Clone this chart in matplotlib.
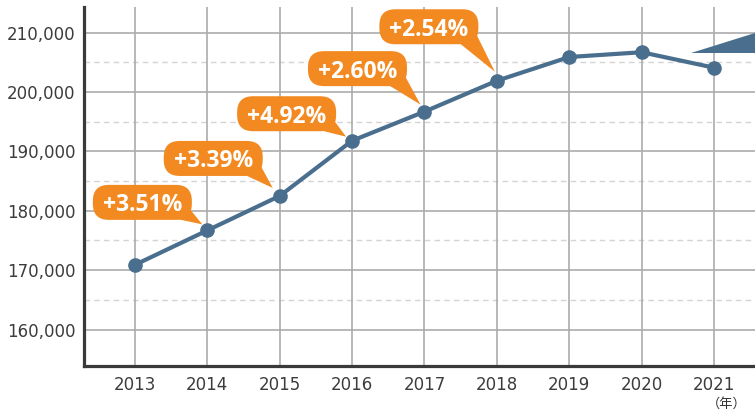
import matplotlib
matplotlib.use("Agg")
import matplotlib.pyplot as plt
from matplotlib.patches import FancyBboxPatch, Polygon
from matplotlib.transforms import IdentityTransform
from matplotlib.ticker import FuncFormatter

years = [2013, 2014, 2015, 2016, 2017, 2018, 2019, 2020, 2021]
values = [170900, 176700, 182500, 191800, 196700, 201900, 205900, 206700, 204100]
growth_years = [2014, 2015, 2016, 2017, 2018]
growth_labels = ["+3.51%", "+3.39%", "+4.92%", "+2.60%", "+2.54%"]
y_ticks = [160000, 170000, 180000, 190000, 200000, 210000]
y_minor = [165000, 175000, 185000, 195000, 205000]

W, H = 755, 412
LINE = "#4a6f8e"
ORANGE = "#f28a21"

fig = plt.figure(figsize=(W / 100, H / 100), dpi=100)
ax = fig.add_axes([83.5 / W, 46 / H, 1 - 83.5 / W, (366 - 7) / H])
ax.set_xlim(2012.289, 2021.566)
ax.set_ylim(153860, 214320)

for v in y_ticks:
    ax.axhline(v, color="#ababab", lw=1.2, zorder=1)
for v in y_minor:
    ax.axhline(v, color="#d4d4d4", lw=1.0, ls=(0, (4, 3)), zorder=1)
for yr in years:
    ax.axvline(yr, color="#ababab", lw=1.2, zorder=1)

ax.plot(years, values, color=LINE, lw=3, marker="o", ms=9.5, zorder=5)

ax.set_xticks(years)
ax.set_xticklabels([str(y) for y in years])
ax.set_yticks(y_ticks)
ax.yaxis.set_major_formatter(FuncFormatter(lambda v, p: f"{int(v):,}"))
ax.tick_params(length=0, labelsize=12, colors="#3c3c3c")
ax.tick_params(axis="y", pad=6)
ax.tick_params(axis="x", pad=7)
for s in ["top", "right"]:
    ax.spines[s].set_visible(False)
for s in ["left", "bottom"]:
    ax.spines[s].set_color("#3a3a3a")
    ax.spines[s].set_linewidth(2.3)
    ax.spines[s].set_zorder(6)

# callout bubbles (pixel offsets from the data point, y downward)
box_off = [(-65, -28), (-66.5, -37.5), (-65.5, -27), (-67, -43), (-68, -54)]
tip_off = [(-5, -6), (-7, -8), (-6, -4), (-4, -7), (-2, -9)]
bw, bh = 99, 35
fig.canvas.draw()
val_map = dict(zip(years, values))
for yr, lab, (dx, dy), (tx, ty) in zip(growth_years, growth_labels, box_off, tip_off):
    px, py = ax.transData.transform((yr, val_map[yr]))
    cx, cy = px + dx, py - dy
    box = FancyBboxPatch((cx - bw / 2, cy - bh / 2), bw, bh,
                         boxstyle="round,pad=0,rounding_size=16",
                         transform=IdentityTransform(), fc=ORANGE, ec="none",
                         zorder=3, clip_on=False)
    fig.patches.append(box)
    right, bottom = cx + bw / 2, cy - bh / 2
    tail = Polygon([(right - 20, bottom + 2), (right - 3, bottom + 12),
                    (px + tx, py - ty)], closed=True,
                   transform=IdentityTransform(), fc=ORANGE, ec="none",
                   zorder=3, clip_on=False)
    fig.patches.append(tail)
    fig.text(cx / W, cy / H, lab, ha="center", va="center_baseline",
             color="white", fontsize=16.5, fontweight="bold",
             family=["Open Sans", "DejaVu Sans"], zorder=4)

# partial wedge at top right
wedge = Polygon([(691, H - 53), (755, H - 33), (755, H - 53)], closed=True,
                transform=IdentityTransform(), fc=LINE, ec="none", zorder=6,
                clip_on=False)
fig.patches.append(wedge)

fig.text(727 / W, (H - 404) / H, "（年）", ha="center", va="center",
         fontsize=9.5, color="#333333",
         family=["Noto Sans CJK JP", "DejaVu Sans"])

fig.savefig("out.png", dpi=100)
